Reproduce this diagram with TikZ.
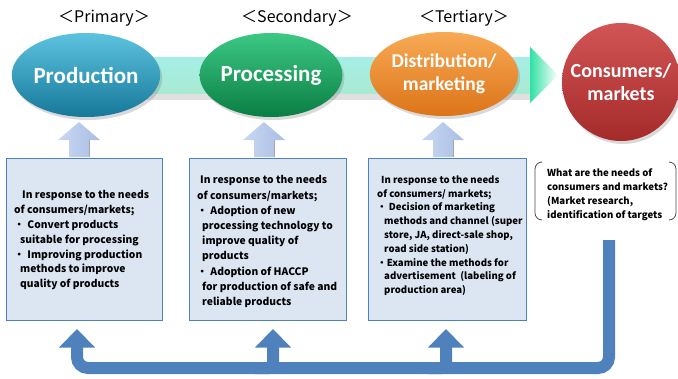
\documentclass[tikz,border=0pt]{standalone}
\usepackage{fontspec}
\setmainfont{Carlito}
\newfontfamily\jp{Noto Sans CJK JP}
\usetikzlibrary{shapes.geometric,shadows}
\definecolor{prodT}{HTML}{5CC3DF}
\definecolor{prodB}{HTML}{17789A}
\definecolor{procT}{HTML}{3CC884}
\definecolor{procB}{HTML}{0A7E44}
\definecolor{distT}{HTML}{F8AA55}
\definecolor{distB}{HTML}{DC7418}
\definecolor{consT}{HTML}{D25555}
\definecolor{consB}{HTML}{A52A2A}
\definecolor{bandT}{HTML}{A6EEE6}
\definecolor{bandM}{HTML}{F2FCEC}
\definecolor{bandB}{HTML}{A8EAD2}
\definecolor{headL}{HTML}{30E0A4}
\definecolor{boxedge}{HTML}{4F81BD}
\definecolor{boxfill}{HTML}{DCE6F2}
\definecolor{fbblue}{HTML}{4F81BD}
\definecolor{upL}{HTML}{C9D8F1}
\definecolor{upR}{HTML}{A9BEE5}
\tikzset{
  ell/.style={ellipse, minimum width=142, minimum height=84, inner sep=0, text=white,
    font=\bfseries\fontsize{23}{26}\selectfont,
    drop shadow={shadow xshift=2pt, shadow yshift=-3pt, opacity=0.3}},
  infobox/.style={draw=boxedge, line width=1.4, fill=boxfill, anchor=north west, inner sep=0, minimum height=162},
  boxtext/.style={anchor=north west, align=left, inner sep=0, text=black},
  headtext/.style={font=\jp\fontsize{16}{18}\selectfont},
  fbline/.style={draw=fbblue, line width=12},
  uparrow/.style={left color=upL, right color=upR},
}
\begin{document}
\begin{tikzpicture}[x=1pt,y=-1pt]
\useasboundingbox (0,0) rectangle (678,378);

% main band arrow
\fill[black,opacity=0.12] (100,91) rectangle (531,100);
\shade[top color=bandT, middle color=bandM, bottom color=bandB] (100,57) rectangle (531,93);
\shade[left color=headL, right color=white] (530,47) -- (558,75) -- (530,103) -- cycle;

% headings
\node[headtext] (h1) at (104,18.5) {＜Primary＞};
\node[headtext] (h2) at (297,18.5) {＜Secondary＞};
\node[headtext] (h3) at (464,18.5) {＜Tertiary＞};

% stage ellipses
\node[ell, top color=prodT, bottom color=prodB] (prod) at (86,75) {Production};
\node[ell, top color=procT, bottom color=procB] (proc) at (271,75) {Processing};
\node[ell, top color=distT, bottom color=distB, font=\bfseries\fontsize{19.5}{23}\selectfont, align=center] (dist) at (444,74) {Distribution/\\marketing};
\node[circle, minimum size=118, inner sep=0, top color=consT, bottom color=consB, text=white,
  font=\bfseries\fontsize{20}{23}\selectfont, align=center,
  drop shadow={shadow xshift=2pt, shadow yshift=-3pt, opacity=0.3}] (cons) at (621,82) {Consumers/\\markets};

% boxes
\node[infobox, minimum width=156] (b1) at (6,158) {};
\node[infobox, minimum width=157] (b2) at (189,158) {};
\node[infobox, minimum width=158] (b3) at (368,158) {};

% light up arrows (box -> stage)
\foreach \c in {79,264,443}{
  \shade[uparrow] (\c-10,157) -- (\c-10,140) -- (\c-21,140) -- (\c,122) -- (\c+21,140) -- (\c+10,140) -- (\c+10,157) -- cycle;
  \draw[gray!70, line width=0.6] (\c+10,140) -- (\c+10,157);
}

% box texts
\node[boxtext, font=\jp\bfseries\fontsize{10.3}{14.8}\selectfont] (t1) at (14,190.5) {%
\hspace*{8pt}In response to the needs\\
of consumers/markets;\\
・\hspace{3pt}Convert products\\
\hspace*{6pt}suitable for processing\\
・\hspace{3pt}Improving production\\
\hspace*{6pt}methods to improve\\
\hspace*{6pt}quality of products};

\node[boxtext, font=\jp\bfseries\fontsize{10.3}{15.2}\selectfont] (t2) at (197,175.5) {%
\hspace*{3pt}In response to the needs\\
of consumers/markets;\\
・\hspace{3pt}Adoption of new\\
\hspace*{5pt}processing technology to\\
\hspace*{5pt}improve quality of\\
\hspace*{5pt}products\\
・\hspace{3pt}Adoption of HACCP\\
\hspace*{5pt}for production of safe and\\
\hspace*{5pt}reliable products};

\node[boxtext, font=\jp\bfseries\fontsize{9.6}{13.8}\selectfont] (t3) at (377,175.5) {%
\hspace*{4pt}In response to the needs\\
of consumers/ markets;\\
・\hspace{2pt}Decision of marketing\\
\hspace*{7pt}methods and channel (super\\
\hspace*{7pt}store, JA, direct-sale shop,\\
\hspace*{7pt}road side station)\\
・Examine the methods for\\
\hspace*{7pt}advertisement\ \ (labeling of\\
\hspace*{7pt}production area)};

% needs bracket box
\draw[black!70, line width=0.8, rounded corners=7] (542,162) -- (535,162) -- (535,220) -- (542,220);
\draw[black!70, line width=0.8, rounded corners=7] (669,162) -- (676,162) -- (676,220) -- (669,220);
\node[boxtext, font=\jp\bfseries\fontsize{9.6}{14.3}\selectfont] (needs) at (547,168) {%
What are the needs of\\
consumers and markets?\\
(Market research,\\
identification of targets};

% feedback arrow
\coordinate (fbstart) at (609,240);
\coordinate (fbcorner) at (609,368);
\coordinate (fbleft) at (77,368);
\coordinate (a1) at (77,347);
\coordinate (a2) at (273,347);
\coordinate (a3) at (446,347);
\draw[fbline, rounded corners=11] (fbstart) -- (fbcorner) -- (fbleft) -- (a1);
\draw[fbline, rounded corners=5] (255,368) -- (273,368) -- (a2);
\draw[fbline, rounded corners=5] (428,368) -- (446,368) -- (a3);
\foreach \c in {77,273,446}{
  \fill[fbblue] (\c-18,347.5) -- (\c,329) -- (\c+18,347.5) -- cycle;
}
\end{tikzpicture}
\end{document}
